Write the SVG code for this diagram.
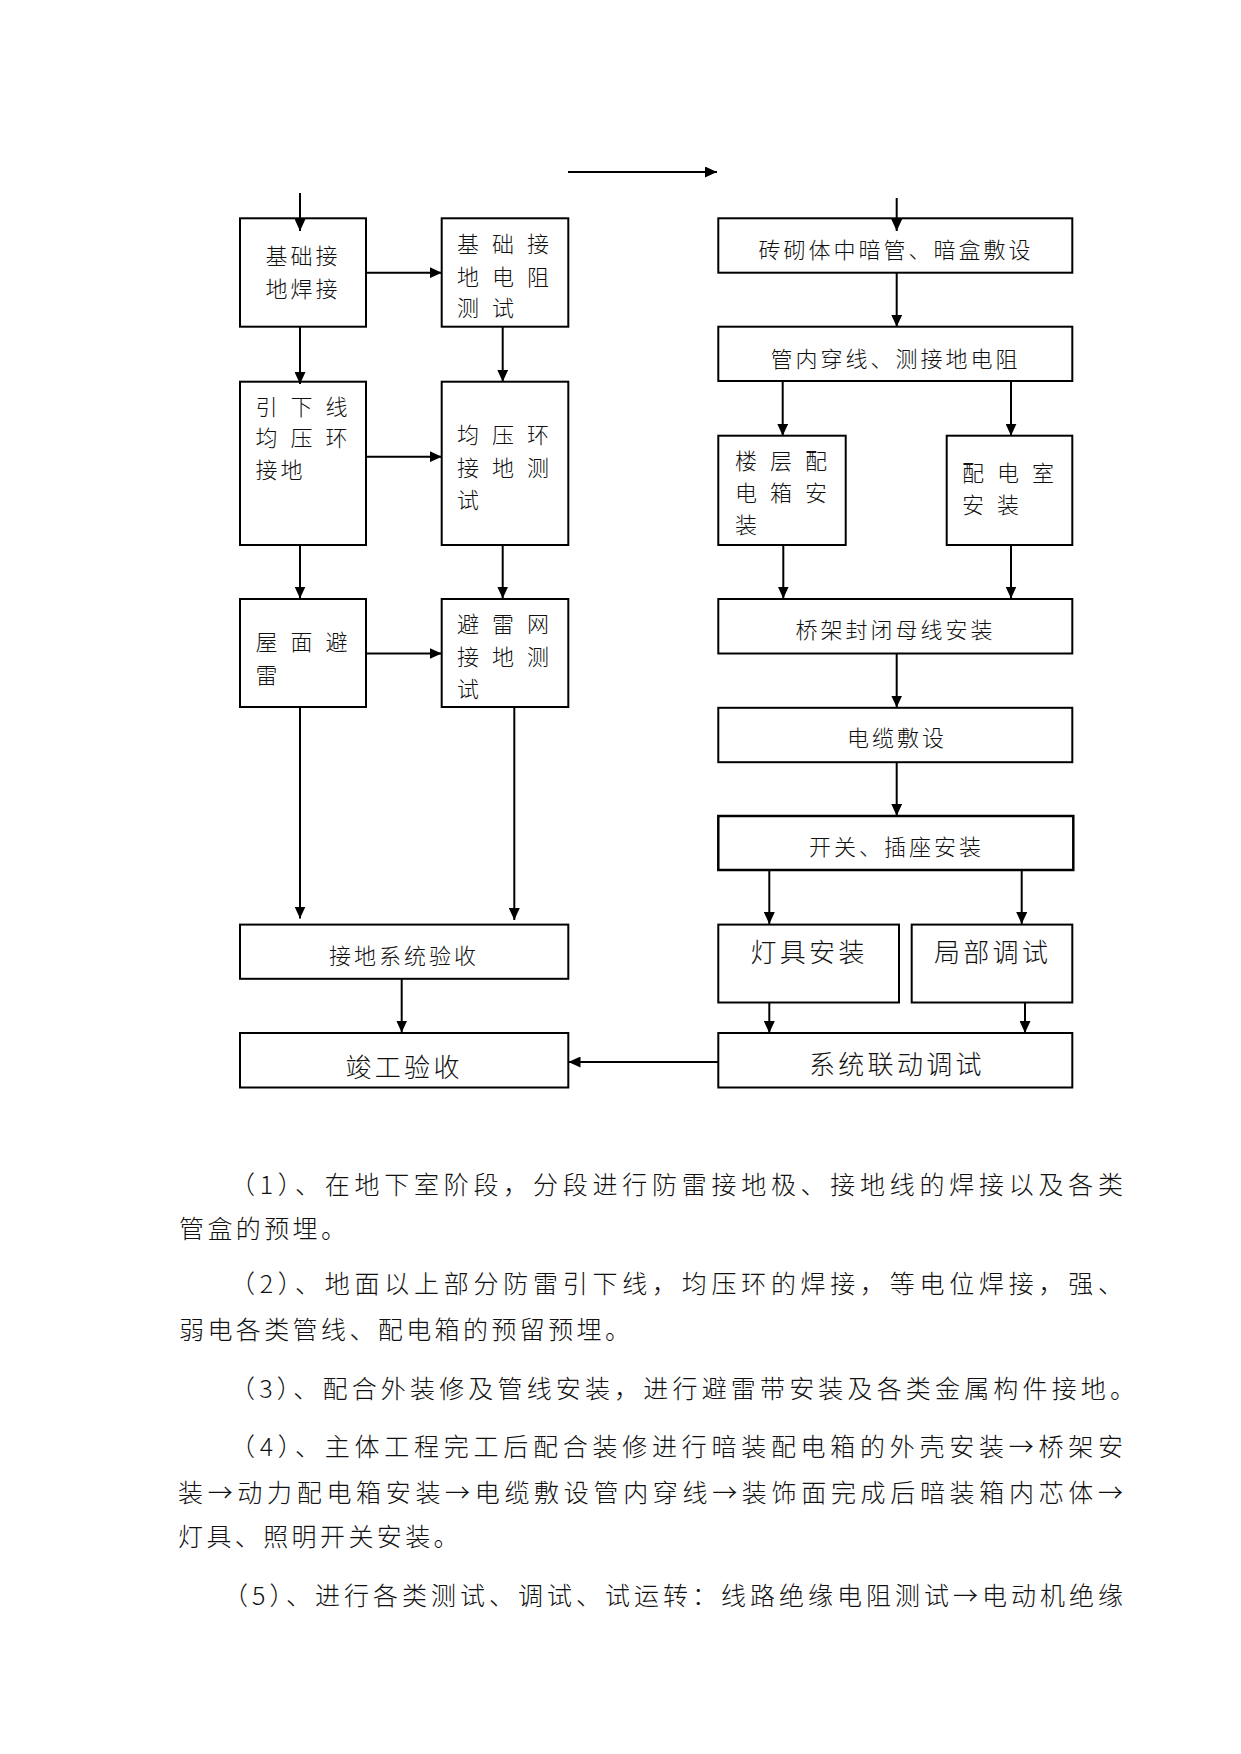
<svg xmlns="http://www.w3.org/2000/svg" width="1241" height="1754" viewBox="0 0 1241 1754">
<style>
  .box { fill: #fff; stroke: #000; stroke-width: 2; }
  .t { font-family: "Noto Sans CJK SC", "Liberation Sans", sans-serif; font-size: 22px; fill: #111; letter-spacing: 3px; font-weight: 300; }
  .sp { letter-spacing: 13px; }
  .big { font-size: 26px; letter-spacing: 3.3px; }
  .p { font-family: "Noto Sans CJK SC", "Liberation Sans", sans-serif; font-size: 25px; fill: #111; font-weight: 300; }
  .ps { letter-spacing: 3.4px; }
  .c line { stroke: #000; stroke-width: 2; fill: none; }
</style>
<defs>
  <marker id="ah" markerUnits="userSpaceOnUse" markerWidth="12" markerHeight="11" refX="12" refY="5.5" orient="auto">
    <path d="M0,0 L12,5.5 L0,11 z" fill="#000"/>
  </marker>
</defs>
<rect width="1241" height="1754" fill="#fff"/>

<g id="n-jichu-hanjie">
  <rect class="box" x="240" y="218.3" width="126" height="108.4"/>
  <text class="t" x="265.5" y="263.6">基础接</text>
  <text class="t" x="265.5" y="296.7">地焊接</text>
</g>
<g id="n-jichu-ceshi">
  <rect class="box" x="441.7" y="218.3" width="126.6" height="108.4"/>
  <text class="t sp" x="457" y="251.7">基础接</text>
  <text class="t sp" x="457" y="285">地电阻</text>
  <text class="t sp" x="457" y="316.4">测试</text>
</g>
<g id="n-yinxiaxian">
  <rect class="box" x="240" y="381.7" width="126" height="163.3"/>
  <text class="t sp" x="255.5" y="415">引下线</text>
  <text class="t sp" x="255.5" y="446.4">均压环</text>
  <text class="t" x="255.5" y="478.4">接地</text>
</g>
<g id="n-junyahuan-ceshi">
  <rect class="box" x="441.7" y="381.7" width="126.6" height="163.3"/>
  <text class="t sp" x="457" y="443.4">均压环</text>
  <text class="t sp" x="457" y="476.4">接地测</text>
  <text class="t" x="457" y="508.4">试</text>
</g>
<g id="n-wumian">
  <rect class="box" x="240" y="599" width="126" height="108"/>
  <text class="t sp" x="255.5" y="649.6">屋面避</text>
  <text class="t" x="255.5" y="682.9">雷</text>
</g>
<g id="n-bileiwang">
  <rect class="box" x="441.7" y="599" width="126.6" height="108"/>
  <text class="t sp" x="457" y="632">避雷网</text>
  <text class="t sp" x="457" y="665.4">接地测</text>
  <text class="t" x="457" y="696.9">试</text>
</g>
<g id="n-jiedi-yanshou">
  <rect class="box" x="240" y="924.6" width="328.3" height="54.2"/>
  <text class="t" x="329" y="963.5">接地系统验收</text>
</g>
<g id="n-jungong">
  <rect class="box" x="240" y="1033" width="328.3" height="54.5"/>
  <text class="t big" x="345.5" y="1077">竣工验收</text>
</g>

<g id="n-zhuanqiti">
  <rect class="box" x="718.3" y="218.3" width="354" height="54.4"/>
  <text class="t" x="758.5" y="258.2">砖砌体中暗管、暗盒敷设</text>
</g>
<g id="n-guannei">
  <rect class="box" x="718.3" y="326.7" width="354" height="54.3"/>
  <text class="t" x="770.5" y="366.7">管内穿线、测接地电阻</text>
</g>
<g id="n-louceng">
  <rect class="box" x="718.3" y="435.7" width="127.4" height="109.3"/>
  <text class="t sp" x="735" y="469.2">楼层配</text>
  <text class="t sp" x="735" y="501.4">电箱安</text>
  <text class="t" x="735" y="533.4">装</text>
</g>
<g id="n-peidianshi">
  <rect class="box" x="946.7" y="435.7" width="125.6" height="109.3"/>
  <text class="t sp" x="962" y="481.4">配电室</text>
  <text class="t sp" x="962" y="513.4">安装</text>
</g>
<g id="n-qiaojia">
  <rect class="box" x="718.3" y="599" width="354" height="54.5"/>
  <text class="t" x="795.5" y="638.4">桥架封闭母线安装</text>
</g>
<g id="n-dianlan">
  <rect class="box" x="718.3" y="707.8" width="354" height="54.4"/>
  <text class="t" x="847" y="746.1">电缆敷设</text>
</g>
<g id="n-kaiguan">
  <rect class="box" x="718.3" y="816" width="355" height="54" style="stroke-width:2.5"/>
  <text class="t" x="809" y="854.8">开关、插座安装</text>
</g>
<g id="n-dengju">
  <rect class="box" x="718.3" y="924.6" width="180.7" height="77.9"/>
  <text class="t big" x="750.5" y="961.5">灯具安装</text>
</g>
<g id="n-jubu">
  <rect class="box" x="911.7" y="924.6" width="160.6" height="77.9"/>
  <text class="t big" x="934" y="961.5">局部调试</text>
</g>
<g id="n-xitong">
  <rect class="box" x="718.3" y="1033" width="354" height="54.5"/>
  <text class="t big" x="809" y="1073.7">系统联动调试</text>
</g>

<g id="connectors" class="c">
  <line x1="300" y1="193" x2="300" y2="231" marker-end="url(#ah)"/>
  <line x1="568" y1="172" x2="717" y2="172" marker-end="url(#ah)"/>
  <line x1="896.7" y1="198" x2="896.7" y2="231" marker-end="url(#ah)"/>
  <line x1="366" y1="272.7" x2="441.7" y2="272.7" marker-end="url(#ah)"/>
  <line x1="300" y1="327" x2="300" y2="384" marker-end="url(#ah)"/>
  <line x1="502.7" y1="327" x2="502.7" y2="381.7" marker-end="url(#ah)"/>
  <line x1="366" y1="456.7" x2="441.7" y2="456.7" marker-end="url(#ah)"/>
  <line x1="300" y1="545" x2="300" y2="598.5" marker-end="url(#ah)"/>
  <line x1="502.7" y1="545" x2="502.7" y2="598.5" marker-end="url(#ah)"/>
  <line x1="366" y1="653.5" x2="441.7" y2="653.5" marker-end="url(#ah)"/>
  <line x1="300" y1="707" x2="300" y2="918.5" marker-end="url(#ah)"/>
  <line x1="514.3" y1="707" x2="514.3" y2="920" marker-end="url(#ah)"/>
  <line x1="401.7" y1="979" x2="401.7" y2="1032.5" marker-end="url(#ah)"/>
  <line x1="718.3" y1="1062" x2="568.5" y2="1062" marker-end="url(#ah)"/>
  <line x1="896.7" y1="272.7" x2="896.7" y2="326.7" marker-end="url(#ah)"/>
  <line x1="782.7" y1="381" x2="782.7" y2="435.7" marker-end="url(#ah)"/>
  <line x1="1011" y1="381" x2="1011" y2="435.7" marker-end="url(#ah)"/>
  <line x1="783.3" y1="545" x2="783.3" y2="598.5" marker-end="url(#ah)"/>
  <line x1="1011" y1="545" x2="1011" y2="598.5" marker-end="url(#ah)"/>
  <line x1="896.7" y1="653.5" x2="896.7" y2="707.5" marker-end="url(#ah)"/>
  <line x1="896.7" y1="762.2" x2="896.7" y2="815.8" marker-end="url(#ah)"/>
  <line x1="769.3" y1="870" x2="769.3" y2="924" marker-end="url(#ah)"/>
  <line x1="1021.7" y1="870" x2="1021.7" y2="924" marker-end="url(#ah)"/>
  <line x1="769.3" y1="1002.5" x2="769.3" y2="1033" marker-end="url(#ah)"/>
  <line x1="1025" y1="1002.5" x2="1025" y2="1033" marker-end="url(#ah)"/>
</g>

<g id="paragraphs">
  <text class="p" x="230" y="1194" textLength="893" lengthAdjust="spacing">（1）、在地下室阶段，分段进行防雷接地极、接地线的焊接以及各类</text>
  <text class="p ps" x="179" y="1238">管盒的预埋。</text>
  <text class="p" x="230" y="1293" textLength="893" lengthAdjust="spacing">（2）、地面以上部分防雷引下线，均压环的焊接，等电位焊接，强、</text>
  <text class="p ps" x="179" y="1339">弱电各类管线、配电箱的预留预埋。</text>
  <text class="p" x="230" y="1398" textLength="905" lengthAdjust="spacing">（3）、配合外装修及管线安装，进行避雷带安装及各类金属构件接地。</text>
  <text class="p" x="230" y="1456" textLength="893" lengthAdjust="spacing">（4）、主体工程完工后配合装修进行暗装配电箱的外壳安装→桥架安</text>
  <text class="p" x="178" y="1502" textLength="945" lengthAdjust="spacing">装→动力配电箱安装→电缆敷设管内穿线→装饰面完成后暗装箱内芯体→</text>
  <text class="p ps" x="178" y="1546">灯具、照明开关安装。</text>
  <text class="p" x="223" y="1605" textLength="900" lengthAdjust="spacing">（5）、进行各类测试、调试、试运转：线路绝缘电阻测试→电动机绝缘</text>
</g>
</svg>
